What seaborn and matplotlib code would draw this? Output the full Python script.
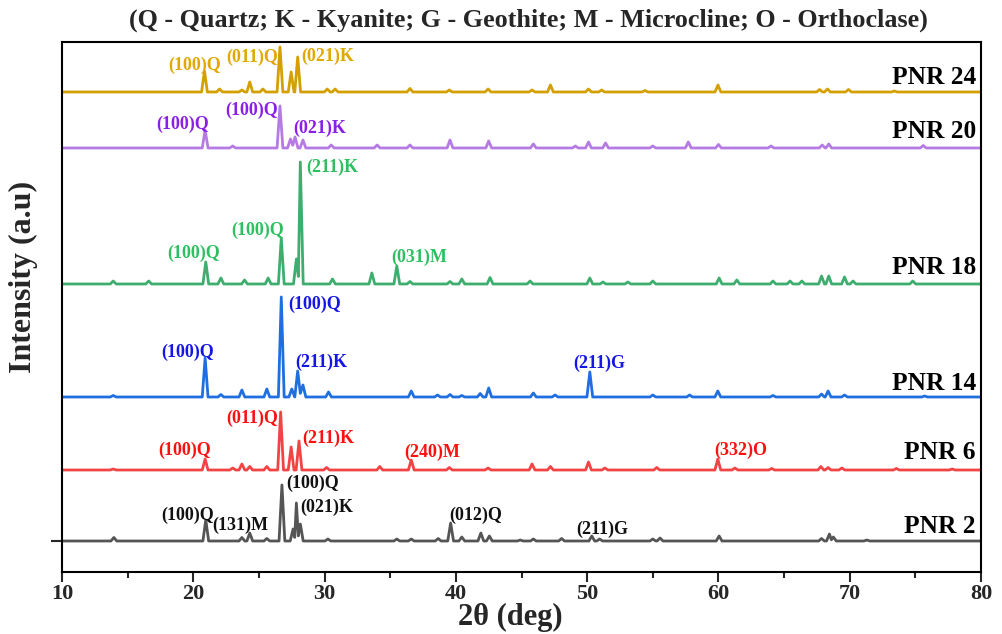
import matplotlib
matplotlib.use("Agg")
import matplotlib.pyplot as plt
import seaborn as sns
import pandas as pd

# peak positions (2theta, deg) and heights (a.u.)
pnr2_pos = [13.95, 20.95, 23.7, 24.3, 25.6, 26.75, 27.6, 27.85, 28.15, 30.25, 35.5, 36.6,
            38.65, 39.6, 40.45, 41.9, 42.55, 44.9, 45.9, 48.05, 50.35, 50.95, 55.0, 55.55,
            60.05, 67.85, 68.45, 68.75, 71.3]
pnr2_h = [3.5, 21, 3.5, 8, 2.5, 56, 12, 38, 17, 2, 2, 2,
          2.5, 18, 4, 8, 5, 1, 2, 2.5, 5, 2, 2, 3,
          5, 2.5, 7, 4, 1]

pnr6_pos = [13.9, 20.9, 23.0, 23.7, 24.3, 25.6, 26.65, 27.45, 28.05, 30.15, 34.2, 36.6,
            39.5, 42.45, 45.8, 47.2, 50.1, 51.35, 55.3, 59.95, 61.25, 64.05, 67.8, 68.35,
            69.4, 73.55, 77.8]
pnr6_h = [1, 11, 2, 6, 3.5, 3.5, 58, 23, 29, 2.5, 3.5, 10,
          2.5, 2, 6, 3.5, 8, 2, 2.5, 11, 2, 1.5, 3.5, 2.5,
          2, 1.5, 1]

pnr14_pos = [13.9, 20.9, 22.1, 23.7, 25.6, 26.7, 27.5, 27.95, 28.35, 30.3, 36.6, 38.6,
             39.55, 40.45, 41.85, 42.5, 45.9, 47.55, 50.2, 55.0, 57.8, 59.95, 64.15, 67.85,
             68.35, 69.6, 75.7]
pnr14_h = [1.5, 39, 2.5, 7, 8, 100, 8, 26, 12, 5, 6, 2,
           2.5, 1.5, 3.5, 9, 4, 2, 25, 2, 2, 6, 1.5, 3,
           6, 2, 1]

pnr18_pos = [13.9, 16.6, 20.95, 22.1, 23.9, 25.7, 26.7, 27.85, 28.15, 30.6, 33.6, 35.5,
             36.5, 39.55, 40.45, 42.6, 45.65, 50.2, 51.2, 53.1, 55.0, 60.05, 61.4, 64.15,
             65.45, 66.35, 67.85, 68.4, 69.6, 70.25, 74.8]
pnr18_h = [3, 3, 22, 6, 4, 6, 46, 25, 122, 5, 11, 18,
           2.5, 2.5, 5, 6.5, 3, 6, 2, 2, 3, 6, 4, 3,
           3, 3, 8, 8, 7, 3, 3]

pnr20_pos = [20.9, 23.0, 26.6, 27.4, 27.75, 28.35, 30.5, 34.0, 36.5, 39.55, 42.5, 45.9,
             49.1, 50.1, 51.4, 55.0, 57.7, 60.0, 64.0, 67.9, 68.4, 75.6]
pnr20_h = [18, 2, 42, 9, 11, 8, 3, 3, 3, 8, 7, 4,
           2, 6, 5, 2, 6, 3.5, 2, 3, 4, 2.5]

pnr24_pos = [20.85, 22.0, 23.7, 24.3, 25.3, 26.6, 27.45, 27.95, 30.2, 30.8, 36.5, 39.5,
             42.45, 45.8, 47.2, 50.1, 51.1, 54.4, 59.96, 67.7, 68.3, 69.9, 73.4]
pnr24_h = [21, 3, 2, 10, 3, 45, 20, 35, 3, 3, 3.5, 2,
           3, 2, 7, 3, 2, 1.5, 7, 2.5, 3, 2.5, 1]

samples = ["PNR 2", "PNR 6", "PNR 14", "PNR 18", "PNR 20", "PNR 24"]
peak_pos = [pnr2_pos, pnr6_pos, pnr14_pos, pnr18_pos, pnr20_pos, pnr24_pos]
peak_h = [pnr2_h, pnr6_h, pnr14_h, pnr18_h, pnr20_h, pnr24_h]
offsets = [31, 102, 175, 288, 424, 480]

# phase labels: (sample, text, 2theta, intensity)
phase_labels = [
    ("PNR 2", "(100)Q", 29.12, 89), ("PNR 2", "(021)K", 30.18, 65),
    ("PNR 2", "(100)Q", 19.6, 57), ("PNR 2", "(131)M", 23.56, 47),
    ("PNR 2", "(012)Q", 41.53, 57), ("PNR 2", "(211)G", 51.13, 43),
    ("PNR 6", "(011)Q", 24.47, 154), ("PNR 6", "(211)K", 30.26, 134),
    ("PNR 6", "(100)Q", 19.37, 122), ("PNR 6", "(240)M", 38.18, 120),
    ("PNR 6", "(332)O", 61.71, 122),
    ("PNR 14", "(100)Q", 29.27, 268), ("PNR 14", "(100)Q", 19.6, 220),
    ("PNR 14", "(211)K", 29.73, 210), ("PNR 14", "(211)G", 50.9, 209),
    ("PNR 18", "(211)K", 30.56, 405), ("PNR 18", "(100)Q", 24.93, 342),
    ("PNR 18", "(100)Q", 20.05, 319), ("PNR 18", "(031)M", 37.19, 315),
    ("PNR 20", "(100)Q", 19.22, 448), ("PNR 20", "(100)Q", 24.47, 462),
    ("PNR 20", "(021)K", 29.65, 444),
    ("PNR 24", "(100)Q", 20.13, 507), ("PNR 24", "(011)Q", 24.47, 515),
    ("PNR 24", "(021)K", 30.26, 516),
]
name_y = [45, 119, 188, 304, 440, 494]

line_colors = ["#555555", "#F24444", "#1F6FE0", "#3DAE6E", "#B57BE3", "#D4A000"]
text_colors = ["#111111", "#FF1010", "#1515E8", "#2EC060", "#8A1FE8", "#E0A800"]


def profile(pos, hts, base, w=0.22):
    # polyline through the peak tops, back to the baseline between peaks
    xs, ys = [10.0], [base]
    for i, (p, h) in enumerate(zip(pos, hts)):
        if i == 0 or p - w > pos[i - 1] + w:
            if i > 0:
                xs.append(pos[i - 1] + w)
                ys.append(base)
            xs.append(p - w)
            ys.append(base)
        else:
            xs.append((pos[i - 1] + p) / 2)
            ys.append(base + 0.3 * min(h, hts[i - 1]))
        xs.append(p)
        ys.append(base + h)
    xs += [pos[-1] + w, 80.0]
    ys += [base, base]
    return xs, ys


sns.set_style("ticks")
plt.rcParams["font.family"] = ["Liberation Serif", "DejaVu Serif"]
plt.rcParams["font.weight"] = "bold"

fig = plt.figure(figsize=(10.02, 6.34), dpi=100)
ax = fig.add_axes([0.0619, 0.0978, 0.9172, 0.836])

for name, pos, hts, off, lc in zip(samples, peak_pos, peak_h, offsets, line_colors):
    xs, ys = profile(pos, hts, off)
    df = pd.DataFrame({"theta": xs, "intensity": ys})
    sns.lineplot(data=df, x="theta", y="intensity", ax=ax, color=lc,
                 linewidth=2.0, sort=False, estimator=None)

for name, ny in zip(samples, name_y):
    ax.text(79.6, ny, name, ha="right", va="center", fontsize=18.3,
            fontweight="bold", color="black")

for name, txt, x, y in phase_labels:
    tc = text_colors[samples.index(name)]
    ax.text(x, y, txt, ha="center", va="center", fontsize=13,
            fontweight="bold", color=tc)

ax.set_xlim(10, 80)
ax.set_ylim(0, 530)
ax.set_xticks(range(10, 81, 10))
ax.set_xticks(range(15, 80, 10), minor=True)
ax.set_yticks([offsets[0]])
ax.set_yticklabels([])
ax.tick_params(axis="x", which="major", direction="out", length=7, width=1.5,
               labelsize=16, pad=2)
ax.tick_params(axis="x", which="minor", direction="out", length=4.5, width=1.5)
ax.tick_params(axis="y", direction="out", length=8, width=1.5)
for lbl in ax.get_xticklabels():
    lbl.set_fontweight("bold")
for sp in ax.spines.values():
    sp.set_linewidth(1.5)
    sp.set_color("black")

ax.set_xlabel("2θ (deg)", fontsize=22, fontweight="bold")
ax.xaxis.set_label_coords(0.4875, -0.058)
ax.set_ylabel("Intensity (a.u)", fontsize=23, fontweight="bold")
ax.yaxis.set_label_coords(-0.026, 0.557)
fig.text(0.527, 1 - 20 / 634, "(Q - Quartz; K - Kyanite; G - Geothite; M - Microcline; O - Orthoclase)",
         ha="center", va="center", fontsize=18.8, fontweight="bold")

fig.savefig("out.png", dpi=100)
